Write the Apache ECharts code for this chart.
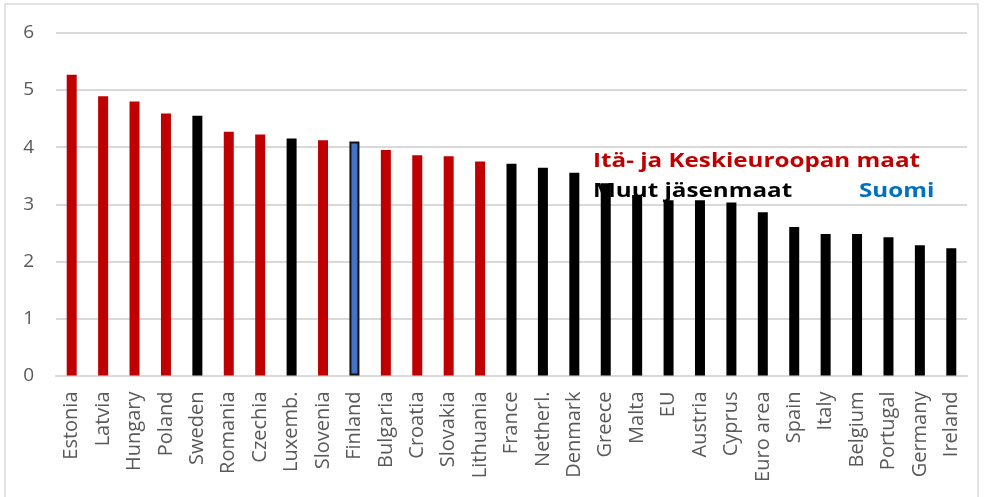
<!DOCTYPE html>
<html>
<head>
<meta charset="utf-8">
<script src="https://cdn.jsdelivr.net/npm/echarts@6/dist/echarts.min.js"></script>
<style>
  html, body { margin: 0; padding: 0; background: #fff; }
  #chart { width: 984px; height: 497px; }
</style>
</head>
<body>
<div id="chart"></div>
<script>
// maat järjestyksessä
var categories = ['Estonia', 'Latvia', 'Hungary', 'Poland', 'Sweden', 'Romania', 'Czechia', 'Luxemb.',
    'Slovenia', 'Finland', 'Bulgaria', 'Croatia', 'Slovakia', 'Lithuania', 'France', 'Netherl.',
    'Denmark', 'Greece', 'Malta', 'EU', 'Austria', 'Cyprus', 'Euro area', 'Spain', 'Italy',
    'Belgium', 'Portugal', 'Germany', 'Ireland'];
var values = [5.27, 4.89, 4.80, 4.59, 4.55, 4.27, 4.22, 4.15,
    4.12, 4.10, 3.95, 3.86, 3.84, 3.75, 3.71, 3.64,
    3.55, 3.37, 3.16, 3.07, 3.07, 3.03, 2.86, 2.60, 2.48,
    2.48, 2.42, 2.28, 2.23];
// ryhmä: e = Itä- ja Keskieuroopan maat, m = muut, f = Suomi
var groups = ['e', 'e', 'e', 'e', 'm', 'e', 'e', 'm',
    'e', 'f', 'e', 'e', 'e', 'e', 'm', 'm',
    'm', 'm', 'm', 'm', 'm', 'm', 'm', 'm', 'm',
    'm', 'm', 'm', 'm'];
var yTicks = [0, 1, 2, 3, 4, 5, 6];

var colors = { e: '#C00000', m: '#000000', f: '#4472C4' };

var myChart = echarts.init(document.getElementById('chart'));

var barData = values.map(function (v, i) {
    var g = groups[i];
    var item = { value: v, itemStyle: { color: colors[g] } };
    if (g === 'f') {
        item.itemStyle.borderColor = '#111';
        item.itemStyle.borderWidth = 2;
    }
    return item;
});

var option = {
    animation: false,
    backgroundColor: '#fff',
    grid: { left: 56, right: 17, top: 33, bottom: 121.5, containLabel: false },
    xAxis: {
        type: 'category',
        data: categories,
        axisLine: { lineStyle: { color: '#d9d9d9', width: 2 } },
        axisTick: { show: false },
        axisLabel: {
            rotate: 90, interval: 0, margin: 16,
            color: '#595959', fontSize: 20, fontFamily: 'Open Sans'
        }
    },
    yAxis: {
        type: 'value',
        min: yTicks[0],
        max: yTicks[yTicks.length - 1],
        interval: 1,
        axisLine: { show: false },
        axisTick: { show: false },
        splitLine: { lineStyle: { color: '#d9d9d9', width: 2 } },
        axisLabel: { color: '#595959', fontSize: 19, fontFamily: 'Open Sans', margin: 22 }
    },
    series: [{
        type: 'bar',
        data: barData,
        barWidth: 10
    }],
    graphic: [
        {
            type: 'rect', z: 0, silent: true,
            shape: { x: 5, y: 4, width: 973, height: 520 },
            style: { fill: 'none', stroke: '#d9d9d9', lineWidth: 1.5 }
        },
        {
            type: 'text', z: 100, x: 593, y: 161, scaleX: 1.21,
            style: { text: 'Itä- ja Keskieuroopan maat', fill: '#C00000', font: 'bold 20px "Open Sans"', verticalAlign: 'middle' }
        },
        {
            type: 'text', z: 100, x: 593, y: 191, scaleX: 1.21,
            style: { text: 'Muut jäsenmaat', fill: '#000000', font: 'bold 20px "Open Sans"', verticalAlign: 'middle' }
        },
        {
            type: 'text', z: 100, x: 859, y: 191, scaleX: 1.21,
            style: { text: 'Suomi', fill: '#0070C0', font: 'bold 20px "Open Sans"', verticalAlign: 'middle' }
        }
    ]
};

myChart.setOption(option);
</script>
</body>
</html>
